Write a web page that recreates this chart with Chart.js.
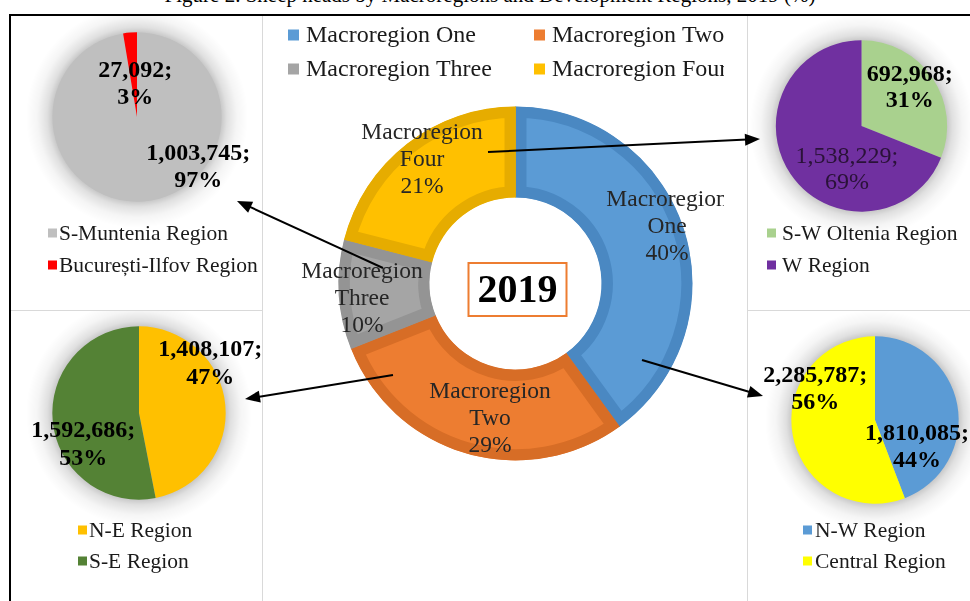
<!DOCTYPE html>
<html><head><meta charset="utf-8">
<script src="https://cdn.jsdelivr.net/npm/chart.js@4.4.1/dist/chart.umd.min.js"></script>
<style>
html,body{margin:0;padding:0;background:#fff;}
#stage{position:relative;width:970px;height:601px;overflow:hidden;background:#fff;font-family:"Liberation Serif","Times New Roman",serif;}
#title{position:absolute;left:0;top:-15px;width:980px;text-align:center;font-size:21px;line-height:21px;white-space:nowrap;color:#000;}
#frame{position:absolute;left:9px;top:14px;width:990px;height:620px;border-top:2.5px solid #000;border-left:2.5px solid #000;box-sizing:border-box;}
.sep{position:absolute;background:#d9d9d9;}
canvas{position:absolute;}
svg{position:absolute;left:0;top:0;}
</style></head>
<body>
<div id="stage">
  <div id="title"></div>
  <div id="frame"></div>
  <div class="sep" style="left:262px;top:16px;width:1px;height:590px"></div>
  <div class="sep" style="left:747px;top:16px;width:1px;height:590px"></div>
  <div class="sep" style="left:11px;top:310px;width:251px;height:1px"></div>
  <div class="sep" style="left:747px;top:310px;width:230px;height:1px"></div>
</div>
<script>
// ---------- data ----------
const figureTitle = 'Figure 2. Sheep heads by Macroregions and Development Regions, 2019 (%)';
const centerYear = '2019';
const mainLabels = ['Macroregion One', 'Macroregion Two', 'Macroregion Three', 'Macroregion Four'];
const mainShares = [40, 29, 10, 21];
const tlLabels = ['S-Muntenia Region', 'București-Ilfov Region'];
const tlValues = [1003745, 27092];
const trLabels = ['S-W Oltenia Region', 'W Region'];
const trValues = [692968, 1538229];
const blLabels = ['N-E Region', 'S-E Region'];
const blValues = [1408107, 1592686];
const brLabels = ['N-W Region', 'Central Region'];
const brValues = [1810085, 2285787];

document.getElementById('title').textContent = figureTitle;

const SERIF = '"Liberation Serif","Times New Roman",serif';
function fmt(v){ return String(v).replace(/\B(?=(\d{3})+(?!\d))/g, ','); }

const deco = {
  id: 'deco',
  beforeDatasetsDraw(chart, args, o){
    if (!o.glow) return;
    const arc = chart.getDatasetMeta(0).data[0];
    const ctx = chart.ctx;
    const r = arc.outerRadius, ext = o.glow;
    ctx.save();
    const g = ctx.createRadialGradient(arc.x, arc.y, r - 2, arc.x, arc.y, r + ext);
    g.addColorStop(0, 'rgba(0,0,0,0.24)');
    g.addColorStop(0.25, 'rgba(0,0,0,0.12)');
    g.addColorStop(0.6, 'rgba(0,0,0,0.04)');
    g.addColorStop(1, 'rgba(0,0,0,0)');
    ctx.fillStyle = g;
    ctx.beginPath();
    ctx.arc(arc.x, arc.y, r + ext, 0, Math.PI * 2);
    ctx.fill();
    ctx.restore();
  },
  afterDatasetsDraw(chart, args, o){
    const ctx = chart.ctx;
    const meta = chart.getDatasetMeta(0);
    const ds = chart.data.datasets[0];
    const total = ds.data.reduce((a, b) => a + b, 0);
    meta.data.forEach((arc, i) => {
      const lines = o.format(ds.data[i], total, chart.data.labels[i]);
      const p = o.pos[i];
      const bx = arc.x + p[0] * arc.outerRadius;
      const by = arc.y + p[1] * arc.outerRadius;
      ctx.save();
      ctx.font = o.fonts[i];
      ctx.fillStyle = o.colors[i];
      ctx.textAlign = 'center';
      ctx.textBaseline = 'middle';
      const n = lines.length;
      lines.forEach((t, k) => ctx.fillText(t, bx, by + (k - (n - 1) / 2) * o.lineH));
      ctx.restore();
    });
    // legend
    const L = o.legend;
    chart.data.labels.forEach((lab, i) => {
      const it = L.items[i];
      ctx.save();
      ctx.fillStyle = ds.backgroundColor[i];
      ctx.fillRect(it[0], it[1] - L.box / 2, L.box, L.box);
      ctx.fillStyle = L.color;
      ctx.font = L.font;
      ctx.textAlign = 'left';
      ctx.textBaseline = 'middle';
      ctx.fillText(lab, it[0] + L.box + L.gap, it[1] + 1);
      ctx.restore();
    });
    // centre year box
    if (o.year) {
      const arc = meta.data[0];
      const Y = o.year;
      const cx = arc.x + Y.dx, cy = arc.y + Y.dy;
      ctx.save();
      ctx.strokeStyle = Y.stroke;
      ctx.lineWidth = 2;
      ctx.strokeRect(cx - Y.w / 2, cy - Y.h / 2, Y.w, Y.h);
      ctx.fillStyle = '#000';
      ctx.font = Y.font;
      ctx.textAlign = 'center';
      ctx.textBaseline = 'middle';
      ctx.fillText(Y.text, cx, cy + 2);
      ctx.restore();
    }
  }
};

function makeChart(rect, center, radius, labels, values, opts){
  const cv = document.createElement('canvas');
  cv.width = rect[2]; cv.height = rect[3];
  cv.style.left = rect[0] + 'px'; cv.style.top = rect[1] + 'px';
  cv.style.width = rect[2] + 'px'; cv.style.height = rect[3] + 'px';
  document.getElementById('stage').insertBefore(cv, document.getElementById('frame'));
  const w = rect[2], h = rect[3];
  const cx = center[0] - rect[0], cy = center[1] - rect[1];
  const pad = {
    left: Math.max(0, 2 * cx - w), right: Math.max(0, w - 2 * cx),
    top: Math.max(0, 2 * cy - h), bottom: Math.max(0, h - 2 * cy)
  };
  const legendItems = opts.legendItems.map(p => [p[0] - rect[0], p[1] - rect[1]]);
  return new Chart(cv, {
    type: opts.type,
    data: {
      labels: labels,
      datasets: [{
        data: values,
        backgroundColor: opts.colors,
        borderColor: opts.borders || opts.colors,
        borderWidth: opts.bw || 0,
        borderAlign: 'inner',
        hoverOffset: 0,
        radius: radius,
        cutout: opts.cutout || 0
      }]
    },
    options: {
      responsive: false,
      animation: false,
      devicePixelRatio: 1,
      events: [],
      layout: { padding: pad },
      plugins: {
        legend: { display: false },
        tooltip: { enabled: false },
        deco: {
          glow: opts.glow,
          format: opts.format,
          pos: opts.labelPos,
          fonts: opts.labelFonts,
          colors: opts.labelColors,
          lineH: opts.lineH,
          legend: { items: legendItems, box: opts.legendBox, gap: opts.legendGap,
                    font: opts.legendFont, color: '#1a1a1a' },
          year: opts.year
        }
      }
    },
    plugins: [deco]
  });
}

const subFormat = (v, total) => [fmt(v) + ';', Math.round(v / total * 100) + '%'];
const mainFormat = (v, total, lab) => lab.split(' ').concat([Math.round(v / total * 100) + '%']);
const B = 'bold 24px ' + SERIF;
const R = '24px ' + SERIF;
const subLegendFont = '21.5px ' + SERIF;

// top-left
makeChart([12, 16, 250, 294], [137, 117], 85, tlLabels, tlValues, {
  type: 'pie', colors: ['#BFBFBF', '#FF0000'], glow: 26,
  format: subFormat, labelPos: [[0.72, 0.59], [-0.02, -0.38]],
  labelFonts: [B, B], labelColors: ['#000', '#000'], lineH: 27,
  legendItems: [[48, 233], [48, 265]], legendBox: 9, legendGap: 2, legendFont: subLegendFont
});
// top-right
makeChart([748, 16, 222, 294], [861.5, 126], 86, trLabels, trValues, {
  type: 'pie', colors: ['#A9D18E', '#7030A0'], glow: 26,
  format: subFormat, labelPos: [[0.56, -0.44], [-0.17, 0.51]],
  labelFonts: [B, R], labelColors: ['#000', '#2a1238'], lineH: 26,
  legendItems: [[767, 233], [767, 265]], legendBox: 9, legendGap: 6, legendFont: subLegendFont
});
// bottom-left
makeChart([12, 311, 250, 290], [139, 413], 87, blLabels, blValues, {
  type: 'pie', colors: ['#FFC000', '#548235'], glow: 26,
  format: subFormat, labelPos: [[0.82, -0.57], [-0.64, 0.37]],
  labelFonts: [B, B], labelColors: ['#000', '#000'], lineH: 28,
  legendItems: [[78, 530], [78, 561]], legendBox: 9, legendGap: 2, legendFont: subLegendFont
});
// bottom-right
makeChart([748, 311, 222, 290], [875, 420], 84, brLabels, brValues, {
  type: 'pie', colors: ['#5B9BD5', '#FFFF00'], glow: 26,
  format: subFormat, labelPos: [[0.50, 0.33], [-0.71, -0.37]],
  labelFonts: [B, B], labelColors: ['#000', '#000'], lineH: 27,
  legendItems: [[803, 530], [803, 561]], legendBox: 9, legendGap: 3, legendFont: subLegendFont
});
// main doughnut
const M = '23.5px ' + SERIF;
makeChart([263, 16, 461, 585], [515.5, 283.5], 177, mainLabels, mainShares, {
  type: 'doughnut', colors: ['#5B9BD5', '#ED7D31', '#A5A5A5', '#FFC000'],
  borders: ['#4A88C2', '#D76D26', '#949494', '#E6AC00'], bw: 11, cutout: '48.6%',
  format: mainFormat,
  labelPos: [[0.856, -0.322], [-0.144, 0.766], [-0.867, 0.088], [-0.528, -0.698]],
  labelFonts: [M, M, M, M], labelColors: ['#262626', '#262626', '#262626', '#262626'], lineH: 27,
  legendItems: [[288, 35], [534, 35], [288, 69], [534, 69]], legendBox: 11, legendGap: 7,
  legendFont: '24px ' + SERIF,
  year: { text: centerYear, dx: 2, dy: 6, w: 98, h: 53, stroke: '#ED7D31', font: 'bold 40px ' + SERIF }
});

// ---------- connector arrows (annotations) ----------
const NS = 'http://www.w3.org/2000/svg';
const svg = document.createElementNS(NS, 'svg');
svg.setAttribute('width', 970); svg.setAttribute('height', 601);
function arrow(x1, y1, x2, y2){
  const dx = x2 - x1, dy = y2 - y1, len = Math.hypot(dx, dy);
  const ux = dx / len, uy = dy / len, hl = 15, hw = 6;
  const bx = x2 - ux * hl, by = y2 - uy * hl;
  const ln = document.createElementNS(NS, 'line');
  ln.setAttribute('x1', x1); ln.setAttribute('y1', y1);
  ln.setAttribute('x2', bx + ux * 2); ln.setAttribute('y2', by + uy * 2);
  ln.setAttribute('stroke', '#000'); ln.setAttribute('stroke-width', 2);
  svg.appendChild(ln);
  const pg = document.createElementNS(NS, 'polygon');
  pg.setAttribute('points', `${x2},${y2} ${bx - uy * hw},${by + ux * hw} ${bx + uy * hw},${by - ux * hw}`);
  pg.setAttribute('fill', '#000');
  svg.appendChild(pg);
}
arrow(488, 152, 760, 139);
arrow(383, 268, 237, 201);
arrow(393, 375, 245, 399);
arrow(642, 360, 763, 396);
document.getElementById('stage').appendChild(svg);
</script>
</body></html>
